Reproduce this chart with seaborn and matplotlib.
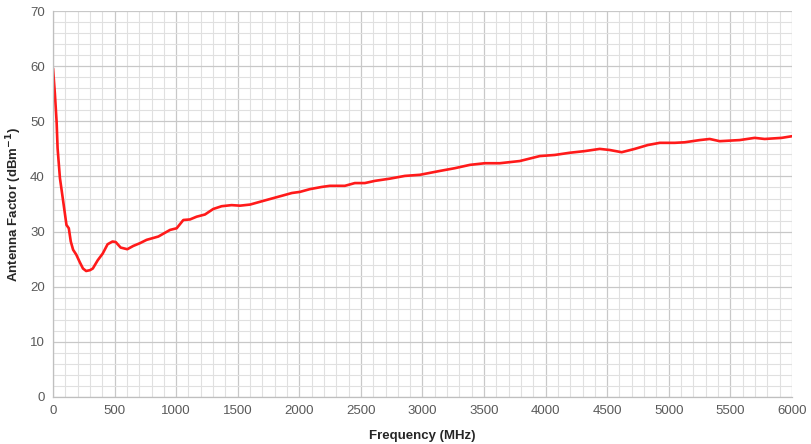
import numpy as np
import pandas as pd
import seaborn as sns
import matplotlib.pyplot as plt
from matplotlib.ticker import MultipleLocator

# antenna factor
freq_mhz = [0, 15, 29, 37, 56, 83, 109, 128, 144, 163, 189, 216, 243, 269, 300, 323,
            363, 403, 443, 483, 509, 549, 603, 652, 706, 760, 855, 950, 1004,
            1058, 1112, 1166, 1234, 1301, 1369, 1450, 1518, 1600, 1680, 1761, 1859,
            1940, 2005, 2086, 2183, 2248, 2370, 2451, 2532, 2614, 2735, 2857, 2979,
            3141, 3263, 3385, 3506, 3628, 3791, 3953, 4075, 4196, 4318, 4440, 4521,
            4618, 4724, 4830, 4927, 5049, 5130, 5252, 5333, 5414, 5576, 5698, 5779,
            5917, 6000]
af_dbm = [59.6, 55.0, 49.9, 45.1, 39.7, 35.4, 31.2, 30.6, 28.2, 26.7, 25.8, 24.5,
          23.3, 22.85, 23.0, 23.3, 24.8, 26.0, 27.7, 28.2, 28.1, 27.1, 26.8,
          27.4, 27.9, 28.5, 29.1, 30.3, 30.6, 32.1, 32.2, 32.7, 33.1, 34.1, 34.6,
          34.8, 34.7, 34.9, 35.4, 35.9, 36.5, 37.0, 37.2, 37.7, 38.1, 38.3, 38.3,
          38.8, 38.8, 39.2, 39.6, 40.1, 40.3, 41.0, 41.5, 42.1, 42.4, 42.4, 42.8,
          43.7, 43.9, 44.3, 44.6, 45.0, 44.8, 44.4, 45.0, 45.7, 46.1, 46.1, 46.2,
          46.6, 46.8, 46.4, 46.6, 47.0, 46.8, 47.0, 47.3]

df = pd.DataFrame({"Frequency (MHz)": freq_mhz, "AF": af_dbm})

sns.set_style("white")
plt.rcParams['font.family'] = ['Liberation Sans', 'DejaVu Sans']

fig = plt.figure(figsize=(8.11, 4.44), dpi=100)
ax = fig.add_axes([0.0654, 0.106, 0.911, 0.869])

sns.lineplot(data=df, x="Frequency (MHz)", y="AF", color="#ff1a1a", linewidth=1.9, ax=ax)

ax.set_xlim(0, 6000)
ax.set_ylim(0, 70)
ax.xaxis.set_major_locator(MultipleLocator(500))
ax.xaxis.set_minor_locator(MultipleLocator(100))
ax.yaxis.set_major_locator(MultipleLocator(10))
ax.yaxis.set_minor_locator(MultipleLocator(2))
ax.grid(which="major", color="#c8c8c8", linewidth=0.9)
ax.grid(which="minor", color="#e0e0e0", linewidth=0.8)
ax.set_axisbelow(True)
ax.tick_params(which="both", length=0, labelsize=9.5, colors="#595959", pad=6)

for side in ["top", "right"]:
    ax.spines[side].set_visible(False)
for side in ["left", "bottom"]:
    ax.spines[side].set_color("#bfbfbf")
    ax.spines[side].set_linewidth(0.9)

ax.set_xlabel("Frequency (MHz)", fontsize=9.5, fontweight="bold", labelpad=9)
ax.set_ylabel("Antenna Factor (dBm$^{\\mathbf{-1}}$)", fontsize=9.5, fontweight="bold", labelpad=4)

fig.savefig("out.png", dpi=100)
